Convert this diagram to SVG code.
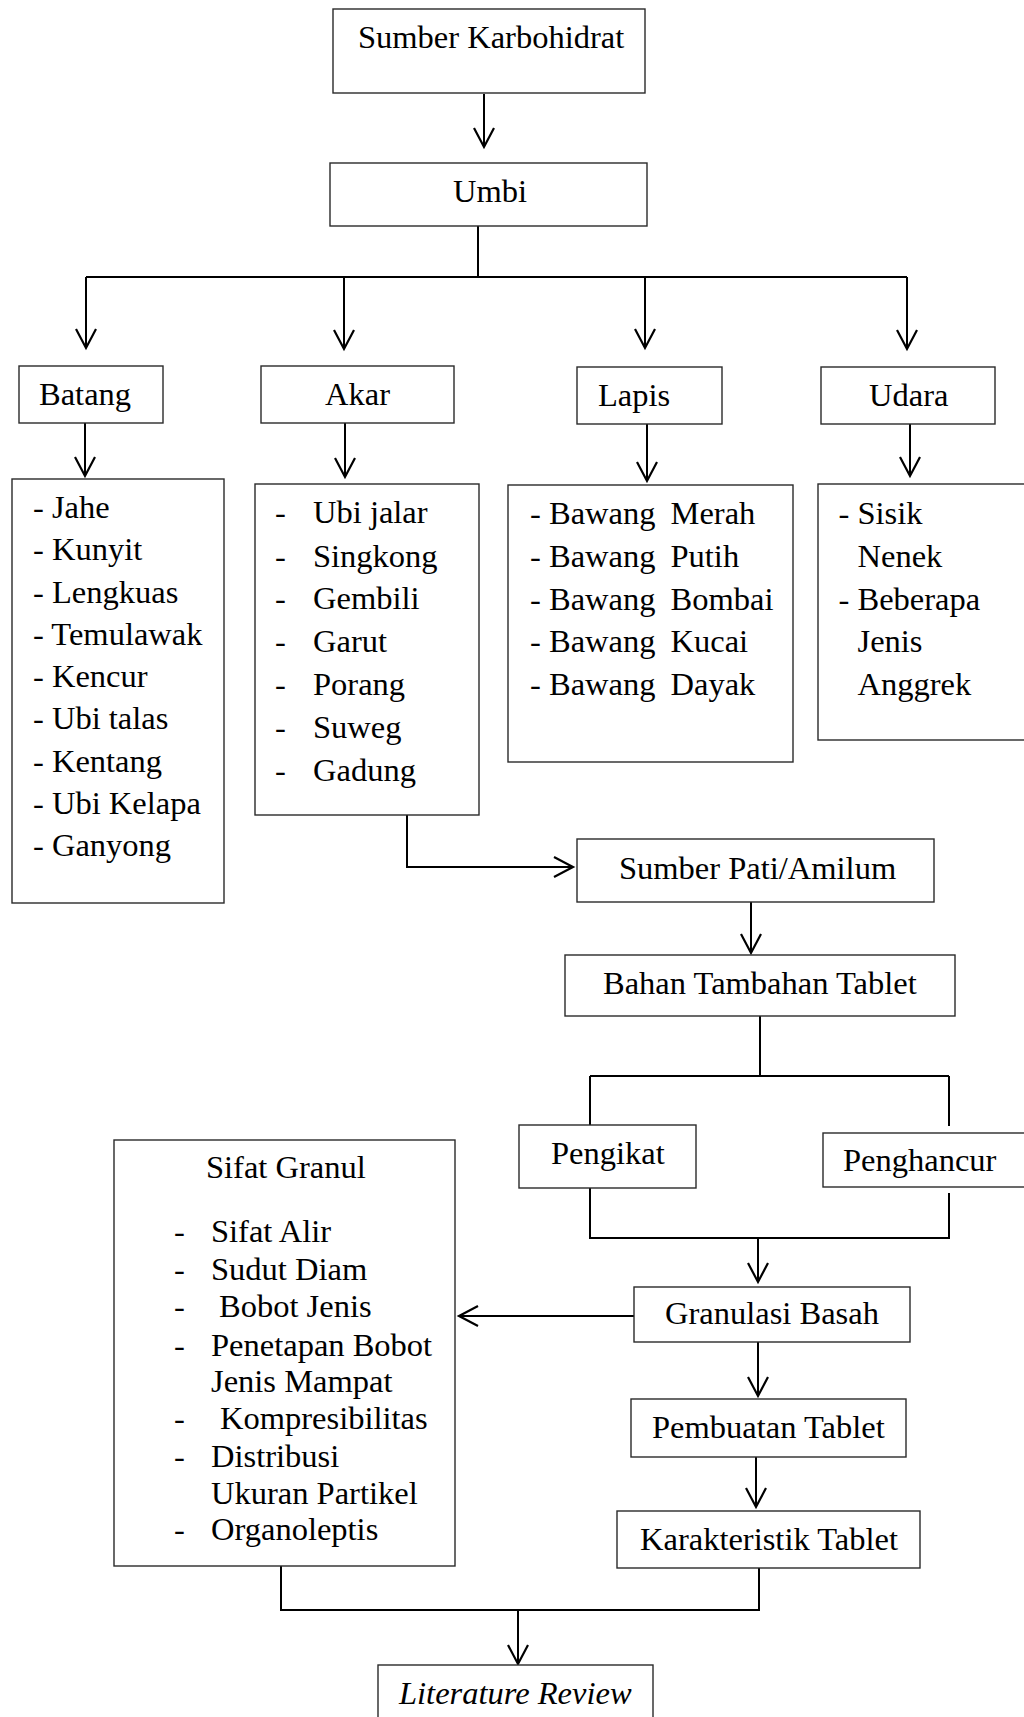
<svg xmlns="http://www.w3.org/2000/svg" width="1024" height="1717" viewBox="0 0 1024 1717">
<style>
rect.box{fill:#fff;stroke:#2a2a2a;stroke-width:1.4}
text{font-family:"Liberation Serif","Times New Roman",serif;font-size:32.5px;fill:#000}
.c{fill:none;stroke:#000;stroke-width:2}
.it{font-style:italic}
</style>
<defs>
<marker id="ah" markerUnits="userSpaceOnUse" markerWidth="24" markerHeight="24" refX="0" refY="0" orient="auto" overflow="visible">
<path d="M-19,-10 L0,0 L-19,10" fill="none" stroke="#000" stroke-width="2.2"/>
</marker>
</defs>
<rect width="1024" height="1717" fill="#fff"/>
<g id="connectors">
<path class="c" d="M484,94 V147" marker-end="url(#ah)"/>
<path class="c" d="M478,226 V277"/>
<path class="c" d="M86,277 H907"/>
<path class="c" d="M86,277 V348" marker-end="url(#ah)"/>
<path class="c" d="M344,277 V349" marker-end="url(#ah)"/>
<path class="c" d="M645,277 V348" marker-end="url(#ah)"/>
<path class="c" d="M907,277 V349" marker-end="url(#ah)"/>
<path class="c" d="M85,423 V476" marker-end="url(#ah)"/>
<path class="c" d="M345,423 V477" marker-end="url(#ah)"/>
<path class="c" d="M647,424 V481" marker-end="url(#ah)"/>
<path class="c" d="M910,424 V476" marker-end="url(#ah)"/>
<path class="c" d="M407,815 V867 H573" marker-end="url(#ah)"/>
<path class="c" d="M751,902 V953" marker-end="url(#ah)"/>
<path class="c" d="M760,1016 V1076"/>
<path class="c" d="M590,1076 H949"/>
<path class="c" d="M590,1076 V1125"/>
<path class="c" d="M949,1076 V1126"/>
<path class="c" d="M590,1188 V1238 H949 V1193"/>
<path class="c" d="M758,1238 V1282" marker-end="url(#ah)"/>
<path class="c" d="M634,1316 H459" marker-end="url(#ah)"/>
<path class="c" d="M758,1342 V1396" marker-end="url(#ah)"/>
<path class="c" d="M756,1457 V1507" marker-end="url(#ah)"/>
<path class="c" d="M281,1566 V1610 H759 V1568"/>
<path class="c" d="M518,1610 V1664" marker-end="url(#ah)"/>
</g>
<g id="sumber-karbohidrat"><rect class="box" x="333" y="9" width="312" height="84"/><text x="358" y="48">Sumber Karbohidrat</text></g>
<g id="umbi"><rect class="box" x="330" y="163" width="317" height="63"/><text x="453" y="202">Umbi</text></g>
<g id="batang"><rect class="box" x="19" y="366" width="144" height="57"/><text x="39" y="405">Batang</text></g>
<g id="akar"><rect class="box" x="261" y="366" width="193" height="57"/><text x="325" y="405">Akar</text></g>
<g id="lapis"><rect class="box" x="577" y="367" width="145" height="57"/><text x="598" y="406">Lapis</text></g>
<g id="udara"><rect class="box" x="821" y="367" width="174" height="57"/><text x="869" y="406">Udara</text></g>
<g id="batang-list"><rect class="box" x="12" y="479" width="212" height="424"/>
<text x="33" y="518">- Jahe</text>
<text x="33" y="560">- Kunyit</text>
<text x="33" y="602.5">- Lengkuas</text>
<text x="33" y="644.5">- Temulawak</text>
<text x="33" y="687">- Kencur</text>
<text x="33" y="729">- Ubi talas</text>
<text x="33" y="771.5">- Kentang</text>
<text x="33" y="813.5">- Ubi Kelapa</text>
<text x="33" y="856">- Ganyong</text>
</g>
<g id="akar-list"><rect class="box" x="255" y="484" width="224" height="331"/>
<text y="523"><tspan x="275">-</tspan><tspan x="313">Ubi jalar</tspan></text>
<text y="566.5"><tspan x="275">-</tspan><tspan x="313">Singkong</tspan></text>
<text y="609"><tspan x="275">-</tspan><tspan x="313">Gembili</tspan></text>
<text y="652"><tspan x="275">-</tspan><tspan x="313">Garut</tspan></text>
<text y="695"><tspan x="275">-</tspan><tspan x="313">Porang</tspan></text>
<text y="737.5"><tspan x="275">-</tspan><tspan x="313">Suweg</tspan></text>
<text y="780.5"><tspan x="275">-</tspan><tspan x="313">Gadung</tspan></text>
</g>
<g id="lapis-list"><rect class="box" x="508" y="485" width="285" height="277"/>
<text y="524"><tspan x="530">-</tspan><tspan x="549">Bawang</tspan><tspan x="670.5">Merah</tspan></text>
<text y="567"><tspan x="530">-</tspan><tspan x="549">Bawang</tspan><tspan x="670.5">Putih</tspan></text>
<text y="609.5"><tspan x="530">-</tspan><tspan x="549">Bawang</tspan><tspan x="670.5">Bombai</tspan></text>
<text y="652"><tspan x="530">-</tspan><tspan x="549">Bawang</tspan><tspan x="670.5">Kucai</tspan></text>
<text y="695"><tspan x="530">-</tspan><tspan x="549">Bawang</tspan><tspan x="670.5">Dayak</tspan></text>
</g>
<g id="udara-list"><rect class="box" x="818" y="484" width="220" height="256"/>
<text y="524"><tspan x="838.5">-</tspan><tspan x="857.5">Sisik</tspan></text>
<text x="857.5" y="567">Nenek</text>
<text y="609.5"><tspan x="838.5">-</tspan><tspan x="857.5">Beberapa</tspan></text>
<text x="857.5" y="652">Jenis</text>
<text x="857.5" y="695">Anggrek</text>
</g>
<g id="sumber-pati"><rect class="box" x="577" y="839" width="357" height="63"/><text x="619" y="879">Sumber Pati/Amilum</text></g>
<g id="bahan-tambahan"><rect class="box" x="565" y="955" width="390" height="61"/><text x="603" y="994">Bahan Tambahan Tablet</text></g>
<g id="pengikat"><rect class="box" x="519" y="1125" width="177" height="63"/><text x="551" y="1164">Pengikat</text></g>
<g id="penghancur"><rect class="box" x="823" y="1133" width="220" height="54"/><text x="843" y="1171">Penghancur</text></g>
<g id="granulasi-basah"><rect class="box" x="634" y="1287" width="276" height="55"/><text x="665" y="1323.5">Granulasi Basah</text></g>
<g id="sifat-granul"><rect class="box" x="114" y="1140" width="341" height="426"/>
<text x="206" y="1178">Sifat Granul</text>
<text y="1241.5"><tspan x="174">-</tspan><tspan x="211">Sifat Alir</tspan></text>
<text y="1280"><tspan x="174">-</tspan><tspan x="211">Sudut Diam</tspan></text>
<text y="1317"><tspan x="174">-</tspan><tspan x="219">Bobot Jenis</tspan></text>
<text y="1355.5"><tspan x="174">-</tspan><tspan x="211">Penetapan Bobot</tspan></text>
<text x="211" y="1391.5">Jenis Mampat</text>
<text y="1429"><tspan x="174">-</tspan><tspan x="220">Kompresibilitas</tspan></text>
<text y="1466.5"><tspan x="174">-</tspan><tspan x="211">Distribusi</tspan></text>
<text x="211" y="1504">Ukuran Partikel</text>
<text y="1539.5"><tspan x="174">-</tspan><tspan x="211">Organoleptis</tspan></text>
</g>
<g id="pembuatan-tablet"><rect class="box" x="631" y="1399" width="275" height="58"/><text x="652" y="1438">Pembuatan Tablet</text></g>
<g id="karakteristik-tablet"><rect class="box" x="617" y="1511" width="303" height="57"/><text x="640" y="1550">Karakteristik Tablet</text></g>
<g id="literature-review"><rect class="box" x="378" y="1665" width="275" height="70"/><text class="it" x="399" y="1704">Literature Review</text></g>
</svg>
